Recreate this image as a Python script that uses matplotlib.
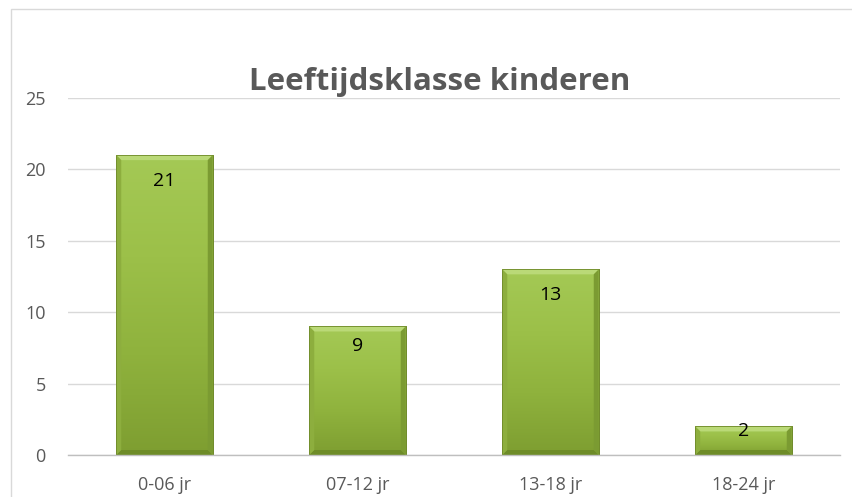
import numpy as np
import matplotlib
matplotlib.use('Agg')
import matplotlib.pyplot as plt
from matplotlib.patches import Rectangle, Polygon
from matplotlib.colors import LinearSegmentedColormap

plt.rcParams['font.family'] = ['Open Sans', 'DejaVu Sans']

categories = ['0-06 jr', '07-12 jr', '13-18 jr', '18-24 jr']
values = [21, 9, 13, 2]
title = 'Leeftijdsklasse kinderen'

GRID = '#d9d9d9'
TEXT = '#595959'

fig = plt.figure(figsize=(8.53, 4.97), dpi=100)
fig.patch.set_facecolor('white')

# outer chart frame (extends past the right/bottom edge in the reference)
fig.add_artist(Rectangle((11 / 853, -0.05), 1.0, 1 - 9 / 497 + 0.05,
                         transform=fig.transFigure, fill=False,
                         edgecolor=GRID, linewidth=1.0))

ax = fig.add_axes([68 / 853, 1 - 455 / 497, 772 / 853, 357 / 497])
ax.set_xlim(-0.5, len(categories) - 0.5)
ax.set_ylim(0, 25)
ax.set_yticks(range(0, 26, 5))
ax.set_xticks(range(len(categories)))
ax.set_xticklabels(categories)
ax.tick_params(length=0, colors=TEXT, labelsize=13)
ax.tick_params(axis='y', pad=16)
ax.tick_params(axis='x', pad=15)
for s in ['top', 'right', 'left']:
    ax.spines[s].set_visible(False)
ax.spines['bottom'].set_color('#bfbfbf')
ax.spines['bottom'].set_linewidth(1.0)
ax.grid(axis='y', color=GRID, linewidth=1.0)
ax.set_axisbelow(True)

body = LinearSegmentedColormap.from_list(
    'body', ['#7e9e31', '#8fb23d', '#9cc049', '#a4c955'])

width = 0.5
bars = ax.bar(range(len(values)), values, width=width, color='#98bb47',
              edgecolor='#6f8a2a', linewidth=0.6, zorder=2)

# bevel sizes in data units (about 5 px)
bx = 5 / 193
by = 5 / (357 / 25)
for bar, v in zip(bars, values):
    x0 = bar.get_x()
    x1 = x0 + bar.get_width()
    grad = np.linspace(0, 1, 100).reshape(-1, 1)
    im = ax.imshow(grad, cmap=body, extent=[x0, x1, 0, v], origin='lower',
                   aspect='auto', zorder=2.1)
    im.set_clip_path(bar)
    h = min(by, v / 2)
    # top bevel light, bottom dark, sides medium
    ax.add_patch(Polygon([(x0, v), (x1, v), (x1 - bx, v - h), (x0 + bx, v - h)],
                         closed=True, facecolor='#bad977', edgecolor='none', zorder=2.2))
    ax.add_patch(Polygon([(x0, 0), (x1, 0), (x1 - bx, h), (x0 + bx, h)],
                         closed=True, facecolor='#6e8c28', edgecolor='none', zorder=2.2))
    ax.add_patch(Polygon([(x0, 0), (x0, v), (x0 + bx, v - h), (x0 + bx, h)],
                         closed=True, facecolor='#8dae3e', edgecolor='none', zorder=2.2))
    ax.add_patch(Polygon([(x1, 0), (x1, v), (x1 - bx, v - h), (x1 - bx, h)],
                         closed=True, facecolor='#7b9b32', edgecolor='none', zorder=2.2))
    ax.add_patch(Rectangle((x0, 0), x1 - x0, v, fill=False,
                           edgecolor='#6f8a2a', linewidth=0.6, zorder=2.3))
    ypos = max(v - 1.8, v * 0.85)
    ax.text(x0 + (x1 - x0) / 2, ypos, str(v), ha='center', va='center',
            fontsize=14, color='black', zorder=3)

fig.text(440 / 853, 1 - 82 / 497, title, ha='center', va='center',
         fontsize=22.5, fontweight='bold', color=TEXT)

fig.savefig('out.png', dpi=100)
